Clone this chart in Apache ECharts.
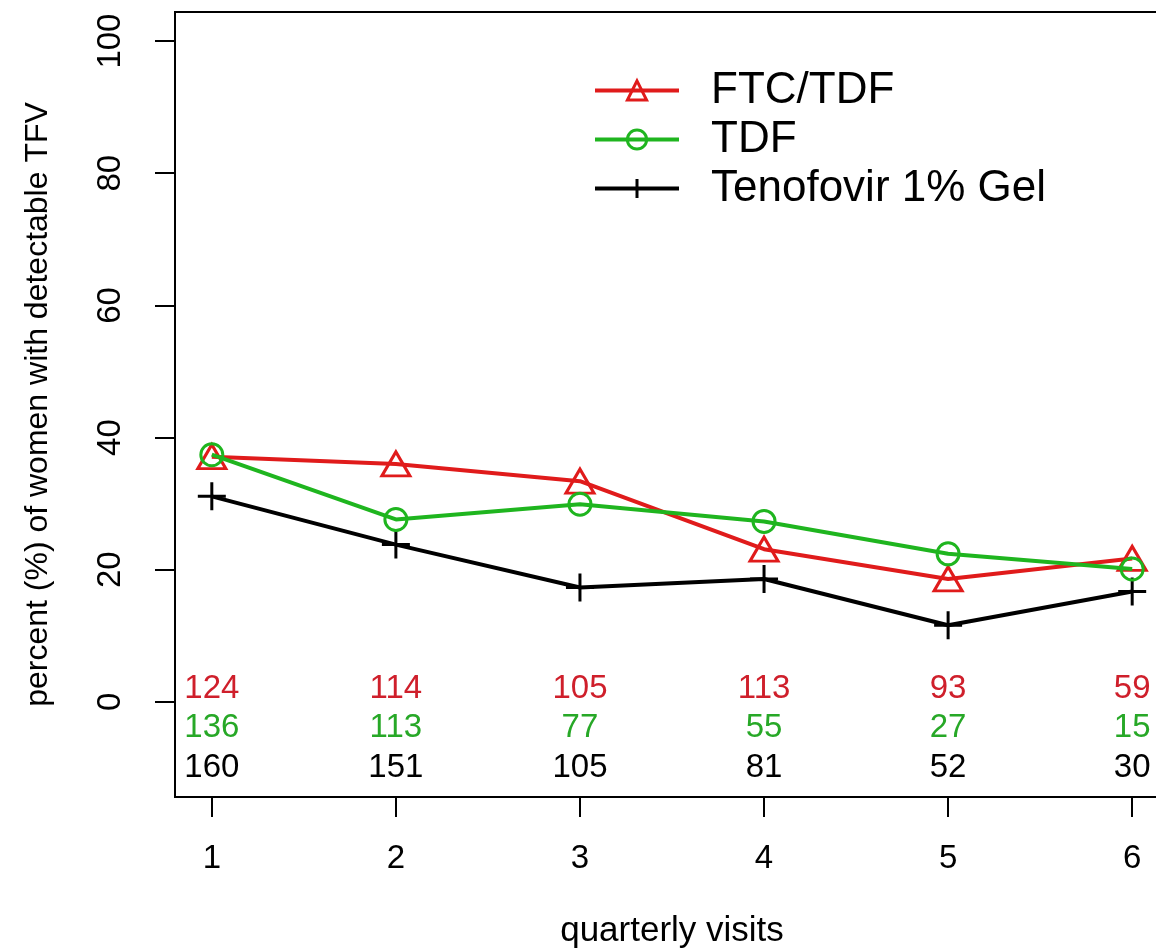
<!DOCTYPE html>
<html>
<head>
<meta charset="utf-8">
<script src="https://cdn.jsdelivr.net/npm/echarts@6/dist/echarts.min.js"></script>
<style>
  html, body { margin: 0; padding: 0; background: #ffffff; }
  #chart { width: 1156px; height: 948px; }
</style>
</head>
<body>
<div id="chart"></div>
<script>
// Quarterly visits and percent of women with detectable TFV per arm
const visits = [1, 2, 3, 4, 5, 6];
const seriesNames = ['FTC/TDF', 'TDF', 'Tenofovir 1% Gel'];
const ftcTdfPct = [37.1, 36.0, 33.4, 23.1, 18.6, 21.7];
const tdfPct = [37.4, 27.6, 29.9, 27.3, 22.4, 20.1];
const gelPct = [31.1, 23.8, 17.3, 18.6, 11.6, 16.7];

// Number of women sampled at each visit, per arm
const ftcTdfN = [124, 114, 105, 113, 93, 59];
const tdfN = [136, 113, 77, 55, 27, 15];
const gelN = [160, 151, 105, 81, 52, 30];

const yTicks = [0, 20, 40, 60, 80, 100];
const xTicks = [1, 2, 3, 4, 5, 6];

const RED = '#e01b1b';
const GREEN = '#1fb51f';
const BLACK = '#000000';
const RED_TEXT = '#cf1f2b';
const GREEN_TEXT = '#27a827';
const FONT = '"Liberation Sans", Arial, sans-serif';

// y positions (data units) of the three rows of counts
const countRowY = [2, -4, -10];

function pairs(ys) { return visits.map((x, i) => [x, ys[i]]); }

function countSeries(counts, rowY, color) {
  return {
    type: 'scatter',
    silent: true,
    symbolSize: 0,
    itemStyle: { opacity: 1 },
    data: visits.map((x, i) => [x, rowY, counts[i]]),
    label: {
      show: true,
      position: 'inside',
      formatter: p => String(p.value[2]),
      color: color,
      opacity: 1,
      fontFamily: FONT,
      fontSize: 33
    },
    z: 1
  };
}

const chart = echarts.init(document.getElementById('chart'), null, { renderer: 'canvas' });

chart.setOption({
  animation: false,
  backgroundColor: '#ffffff',
  grid: {
    left: 175, top: 12, width: 994, height: 785,
    outerBoundsMode: 'none', containLabel: false,
    show: true, borderColor: '#000', borderWidth: 2, backgroundColor: 'transparent'
  },
  legend: {
    left: 588, top: 61, orient: 'vertical',
    itemWidth: 84, itemHeight: 24, itemGap: 0,
    data: seriesNames,
    lineStyle: { width: 4 },
    itemStyle: { borderWidth: 3 },
    textStyle: {
      fontFamily: FONT, fontSize: 44, color: '#000', lineHeight: 49,
      padding: [0, 0, 0, 27]
    }
  },
  xAxis: {
    type: 'value', min: 0.8, max: 6.2,
    name: 'quarterly visits', nameLocation: 'middle', nameGap: 117,
    nameTextStyle: { fontFamily: FONT, fontSize: 35, color: '#000' },
    axisLine: { show: true, onZero: false, lineStyle: { color: '#000', width: 2 } },
    axisTick: { show: true, inside: false, length: 20, customValues: xTicks, lineStyle: { color: '#000', width: 2 } },
    axisLabel: { customValues: xTicks, margin: 45, fontFamily: FONT, fontSize: 33, color: '#000' },
    splitLine: { show: false }
  },
  yAxis: {
    type: 'value', min: -14.4, max: 104.4,
    name: 'percent (%) of women with detectable TFV', nameLocation: 'middle', nameGap: 121,
    nameRotate: 90,
    nameTextStyle: { fontFamily: FONT, fontSize: 32, color: '#000' },
    axisLine: { show: true, onZero: false, lineStyle: { color: '#000', width: 2 } },
    axisTick: { show: true, inside: false, length: 20, customValues: yTicks, lineStyle: { color: '#000', width: 2 } },
    axisLabel: { customValues: yTicks, rotate: 90, margin: 48, fontFamily: FONT, fontSize: 33, color: '#000' },
    splitLine: { show: false }
  },
  series: [
    {
      name: seriesNames[0], type: 'line', data: pairs(ftcTdfPct),
      symbol: 'triangle', symbolSize: [28, 24], showAllSymbol: true,
      lineStyle: { color: RED, width: 4 },
      itemStyle: { color: 'none', borderColor: RED, borderWidth: 3 },
      z: 3
    },
    {
      name: seriesNames[1], type: 'line', data: pairs(tdfPct),
      symbol: 'circle', symbolSize: 22, showAllSymbol: true,
      lineStyle: { color: GREEN, width: 4 },
      itemStyle: { color: 'none', borderColor: GREEN, borderWidth: 3 },
      z: 4
    },
    {
      name: seriesNames[2], type: 'line', data: pairs(gelPct),
      symbol: 'path://M10,0L10,20M0,10L20,10', symbolSize: 28, showAllSymbol: true,
      lineStyle: { color: BLACK, width: 4 },
      itemStyle: { color: 'none', borderColor: BLACK, borderWidth: 3 },
      z: 2
    },
    countSeries(ftcTdfN, countRowY[0], RED_TEXT),
    countSeries(tdfN, countRowY[1], GREEN_TEXT),
    countSeries(gelN, countRowY[2], '#000000')
  ]
});
</script>
</body>
</html>
